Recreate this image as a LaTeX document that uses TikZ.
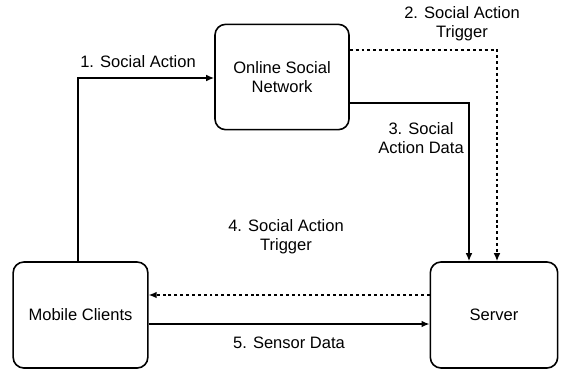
\documentclass[tikz,border=0pt]{standalone}
\usepackage{fontspec}
\setmainfont{Liberation Sans}
\usetikzlibrary{arrows.meta}
\begin{document}
\begin{tikzpicture}[x=0.75pt,y=-0.75pt,
  box/.style={draw,line width=1.2pt,rounded corners=8pt,inner sep=0pt},
  conn/.style={line width=1.1pt,-{Latex[length=6pt,width=5pt]}},
  dotc/.style={conn,dash pattern=on 2.2pt off 2.2pt},
  lbl/.style={font=\fontsize{12.4pt}{14pt}\selectfont,align=center,inner sep=0pt}]
\useasboundingbox (0,0) rectangle (568,372);
\node[box,minimum width=100.5pt,minimum height=79pt,lbl] (osn) at (282,77) {Online Social\\Network};
\node[box,minimum width=101pt,minimum height=79.5pt,lbl] (mob) at (80.5,315) {Mobile Clients};
\node[box,minimum width=95.5pt,minimum height=79.5pt,lbl] (srv) at (494,315) {Server};
\coordinate (c1) at (78,78);
\draw[conn] (mob.north -| c1) -- (c1) -- (c1 -| osn.west);
\coordinate (c2) at (497,50);
\draw[dotc] (c2 -| osn.east) -- (c2) -- (c2 |- srv.north);
\coordinate (c3) at (469,103);
\draw[conn] (c3 -| osn.east) -- (c3) -- (c3 |- srv.north);
\coordinate (c4) at (300,295);
\draw[dotc] (c4 -| srv.west) -- (c4 -| mob.east);
\coordinate (c5) at (300,324);
\draw[conn] (c5 -| mob.east) -- (c5 -| srv.west);
\node[lbl] (l1) at (138,62) {1. Social Action};
\node[lbl] (l2) at (462,24) {2. Social Action\\Trigger};
\node[lbl] (l3) at (421,138) {3. Social\\Action Data};
\node[lbl] (l4) at (286,237) {4. Social Action\\Trigger};
\node[lbl] (l5) at (289,343) {5. Sensor Data};
\end{tikzpicture}
\end{document}
